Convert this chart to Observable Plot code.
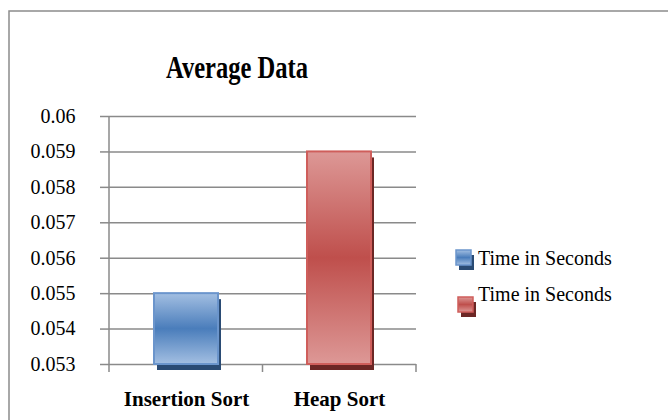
<!DOCTYPE html>
<html><head><meta charset="utf-8">
<script src="https://cdn.jsdelivr.net/npm/d3@7"></script>
<script src="https://cdn.jsdelivr.net/npm/@observablehq/plot@0.6"></script>
<style>body{margin:0;background:#fff} #chart{width:668px;height:420px;overflow:hidden}</style>
</head><body><div id="chart"></div>
<script>
const title = "Average Data";
const categories = ["Insertion Sort", "Heap Sort"];
const times = [0.055, 0.059];
const seriesLabels = ["Time in Seconds", "Time in Seconds"];
const yTicks = [0.053, 0.054, 0.055, 0.056, 0.057, 0.058, 0.059, 0.06];

const palettes = [
  {light: "#a3bfe2", mid: "#4a7dbb", edge: "#6b95cc", shadow: "#2a4b74"},
  {light: "#dd9896", mid: "#bf4f4c", edge: "#cf5e5b", shadow: "#6c2725"}
];
const gridColor = "#8a8a8a";

const data = categories.map((c, i) => ({category: c, time: times[i], base: yTicks[0], series: seriesLabels[i], idx: i}));

const defsMark = () => {
  const g = d3.create("svg:g");
  const defs = g.append("defs");
  palettes.forEach((p, i) => {
    const lg = defs.append("linearGradient").attr("id", "bar-grad-" + i)
      .attr("x1", 0).attr("y1", 0).attr("x2", 0).attr("y2", 1);
    lg.append("stop").attr("offset", "0%").attr("stop-color", p.light);
    lg.append("stop").attr("offset", "50%").attr("stop-color", p.mid);
    lg.append("stop").attr("offset", "100%").attr("stop-color", p.light);
  });
  g.append("rect").attr("x", 9).attr("y", 11).attr("width", 700).attr("height", 460)
    .attr("fill", "none").attr("stroke", "#8c8c8c").attr("stroke-width", 1.5);
  return g.node();
};

const axesMark = (index, scales, values, dims) => {
  const g = d3.create("svg:g").attr("stroke", gridColor).attr("stroke-width", 1.5).attr("fill", "none");
  const x0 = dims.marginLeft, x1 = dims.width - dims.marginRight;
  const yt = dims.marginTop, yb = dims.height - dims.marginBottom;
  g.append("line").attr("x1", x0).attr("x2", x0).attr("y1", yt).attr("y2", yb + 8);
  for (let i = 1; i <= categories.length; i++) {
    const x = x0 + i * (x1 - x0) / categories.length;
    g.append("line").attr("x1", x).attr("x2", x).attr("y1", yb).attr("y2", yb + 8);
  }
  return g.node();
};

const annotMark = () => {
  const g = d3.create("svg:g").attr("font-family", "'Liberation Serif','Times New Roman',serif");
  g.append("text").attr("x", 237).attr("y", 78).attr("text-anchor", "middle")
    .attr("font-size", 31).attr("font-weight", "bold").attr("fill", "#000")
    .attr("textLength", 142).attr("lengthAdjust", "spacingAndGlyphs").text(title);
  const sw = [{x: 456, y: 250, ty: 265}, {x: 458, y: 297, ty: 301}];
  seriesLabels.forEach((s, i) => {
    const p = palettes[i], o = sw[i];
    g.append("rect").attr("x", o.x + 3).attr("y", o.y + 5).attr("width", 15).attr("height", 15).attr("fill", p.shadow);
    g.append("rect").attr("x", o.x).attr("y", o.y).attr("width", 15).attr("height", 15)
      .attr("fill", "url(#bar-grad-" + i + ")").attr("stroke", p.edge).attr("stroke-width", 1.5);
    g.append("text").attr("x", 478).attr("y", o.ty).attr("text-anchor", "start")
      .attr("font-size", 20).attr("fill", "#000").text(s);
  });
  return g.node();
};

const chart = Plot.plot({
  width: 668, height: 420,
  marginLeft: 109, marginRight: 252, marginTop: 116, marginBottom: 56,
  style: {fontFamily: "'Liberation Serif','Times New Roman',serif", background: "#fff", color: "#000", overflow: "visible"},
  x: {domain: categories, paddingInner: 0.58, paddingOuter: 0.29, label: null},
  y: {domain: [yTicks[0], yTicks[yTicks.length - 1]], label: null},
  color: {type: "identity"},
  marks: [
    defsMark,
    Plot.ruleY(yTicks, {stroke: gridColor, strokeWidth: 1.5}),
    Plot.barY(data, {x: "category", y1: "base", y2: "time", fill: d => palettes[d.idx].shadow, dx: 3, dy: 6}),
    Plot.barY(data, {x: "category", y1: "base", y2: "time", fill: d => "url(#bar-grad-" + d.idx + ")", stroke: d => palettes[d.idx].edge, strokeWidth: 2}),
    axesMark,
    Plot.axisY({ticks: yTicks, tickSize: 9, tickPadding: 25, tickFormat: d => String(d), fontSize: 20, stroke: gridColor, strokeWidth: 1.5, label: null}),
    Plot.axisX({tickSize: 0, tickPadding: 27, fontSize: 21, fontWeight: "bold", label: null}),
    annotMark
  ]
});
document.getElementById("chart").append(chart);
</script>
</body></html>
